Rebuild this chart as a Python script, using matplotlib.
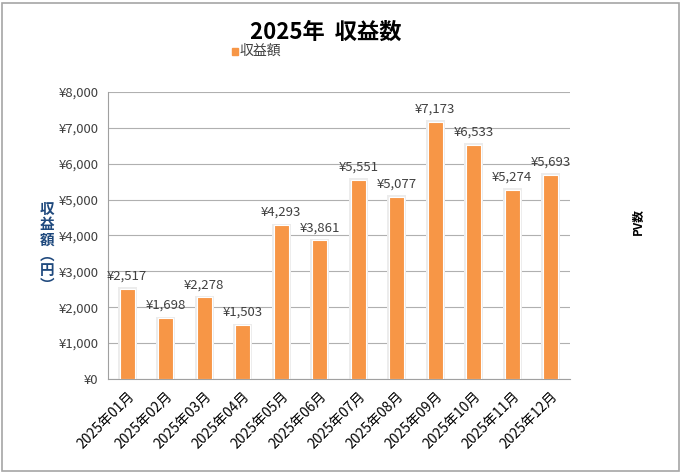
import matplotlib
matplotlib.use("Agg")
import matplotlib.pyplot as plt
from matplotlib.patches import Rectangle

plt.rcParams["font.family"] = ["Noto Sans CJK JP", "DejaVu Sans"]

months = ["2025年01月", "2025年02月", "2025年03月", "2025年04月", "2025年05月", "2025年06月",
          "2025年07月", "2025年08月", "2025年09月", "2025年10月", "2025年11月", "2025年12月"]
revenue = [2517, 1698, 2278, 1503, 4293, 3861, 5551, 5077, 7173, 6533, 5274, 5693]
yticks = [0, 1000, 2000, 3000, 4000, 5000, 6000, 7000, 8000]

BAR = "#F79646"
TXT = "#404040"

fig = plt.figure(figsize=(6.82, 4.73), dpi=100)
ax = fig.add_axes([108 / 682, 1 - 379 / 473, 462 / 682, 287 / 473])

x = range(len(months))
# soft shadow round the bars
ax.bar(x, [v + 40 for v in revenue], width=0.5, color="#ececec", zorder=2)
ax.bar(x, revenue, width=0.38, color=BAR, edgecolor="white", linewidth=0.8, zorder=3)

for i, v in zip(x, revenue):
    ax.text(i, v + 170, f"¥{v:,}", ha="center", va="bottom", fontsize=9.5, color=TXT)

ax.set_xlim(-0.5, len(months) - 0.5)
ax.set_ylim(0, 8000)
ax.set_yticks(yticks)
ax.set_yticklabels([f"¥{t:,}" for t in yticks], fontsize=9.5, color=TXT)
ax.set_xticks(list(x))
ax.set_xticklabels(months, rotation=45, ha="right", rotation_mode="anchor", fontsize=10)
ax.tick_params(axis="both", length=0, pad=7)
ax.grid(axis="y", color="#b0b0b0", linewidth=0.8, zorder=0)
for s in ["top", "right"]:
    ax.spines[s].set_visible(False)
for s in ["left", "bottom"]:
    ax.spines[s].set_color("#a0a0a0")

fig.text(326 / 682, 1 - 32 / 473, "2025年  収益数", ha="center", va="center",
         fontsize=16, fontweight="bold")
fig.patches.append(Rectangle((232 / 682, 1 - 55 / 473), 6 / 682, 7 / 473,
                             transform=fig.transFigure, color=BAR))
fig.text(240 / 682, 1 - 51 / 473, "収益額", ha="left", va="center", fontsize=10, color=TXT)

fig.text(47 / 682, 1 - 247 / 473, "\n".join("収益額︵円︶"), ha="center", va="center",
         fontsize=10.5, fontweight="bold", color="#1F497D", linespacing=0.95)
fig.text(637 / 682, 1 - 222 / 473, "PV数", ha="center", va="center", rotation=90,
         fontsize=8.5, fontweight="bold")

fig.patches.append(Rectangle((2 / 682, 2 / 473), 677 / 682, 468 / 473, transform=fig.transFigure,
                             fill=False, edgecolor="#a6a6a6", linewidth=1.2))

fig.savefig("out.png", dpi=100)
